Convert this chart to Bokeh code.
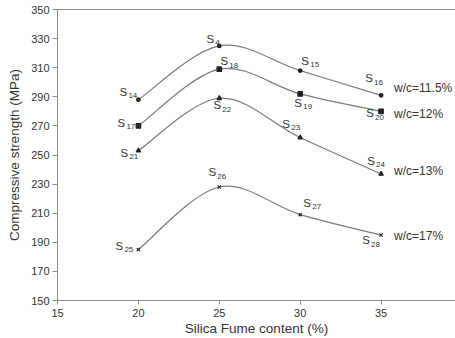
from bokeh.plotting import figure
from bokeh.models import Range1d, FixedTicker, ColumnDataSource, LinearAxis
from bokeh.core.properties import value
from bokeh.embed import file_html
from bokeh.resources import INLINE

# ---- data ----
silica = [20, 25, 30, 35]
series_names = ["w/c=11.5%", "w/c=12%", "w/c=13%", "w/c=17%"]
wc115 = [288, 325, 308, 291]
wc12 = [270, 309, 292, 280]
wc13 = [253, 289, 262, 237]
wc17 = [185, 228, 209, 195]
ids115 = ["14", "4", "15", "16"]
ids12 = ["17", "18", "19", "20"]
ids13 = ["21", "22", "23", "24"]
ids17 = ["25", "26", "27", "28"]
x_ticks = [15, 20, 25, 30, 35, 40]
y_ticks = [150, 170, 190, 210, 230, 250, 270, 290, 310, 330, 350]

# ---- styling / positions (pixel offsets of point labels) ----
lab_off = {
    "w/c=11.5%": [(-15, -8), (-9, -7), (5, -10), (-12, -17)],
    "w/c=12%": [(-17, -3), (5, -8), (-2, 9), (-11, 2)],
    "w/c=13%": [(-14, 2), (-2, 7), (-14, -14), (-10, -13)],
    "w/c=17%": [(-19, -4), (-7, -15), (7, -12), (-15, 5)],
}
name_off = {"w/c=11.5%": -7, "w/c=12%": 3, "w/c=13%": -3, "w/c=17%": 1}
markers = {"w/c=11.5%": ("circle", 3.5), "w/c=12%": ("square", 4.5),
           "w/c=13%": ("triangle", 4.5), "w/c=17%": ("x", 4.5)}

FONT = "Liberation Sans"
LINE = "#7a7a7a"
TXT = "#333333"
AX = "#8a8a8a"

p = figure(width=455, height=338, output_backend="svg", toolbar_location=None,
           x_range=Range1d(15, 39.6), y_range=Range1d(150, 350),
           min_border_left=57, min_border_top=9, min_border_bottom=38,
           min_border_right=0)
p.xgrid.visible = False
p.ygrid.visible = False
p.outline_line_color = None
p.background_fill_color = "white"
p.border_fill_color = "white"

xa = p.below[0]
ya = p.left[0]

top = LinearAxis(ticker=FixedTicker(ticks=[]), axis_line_color=AX,
                 major_tick_out=0, major_tick_in=0, minor_tick_out=0,
                 minor_tick_in=0, major_label_text_font_size="0px")
p.add_layout(top, "above")

for ax in (xa, ya):
    ax.axis_line_color = AX
    ax.major_tick_line_color = AX
    ax.minor_tick_line_color = None
    ax.major_tick_in = 0
    ax.major_label_text_font = FONT
    ax.major_label_text_font_size = "11px"
    ax.major_label_text_color = TXT
    ax.axis_label_text_font = FONT
    ax.axis_label_text_font_size = "13.5px"
    ax.axis_label_text_font_style = "normal"
    ax.axis_label_text_color = TXT

xa.ticker = FixedTicker(ticks=x_ticks)
ya.ticker = FixedTicker(ticks=y_ticks)
xa.major_tick_out = 4
ya.major_tick_out = 5
xa.major_label_standoff = 4
ya.major_label_standoff = 3
xa.axis_label = "Silica Fume content (%)"
ya.axis_label = "Compressive strength (MPa)"
xa.axis_label_standoff = 1
ya.axis_label_standoff = 6


def bezier_parts(xs, ys):
    n = len(xs)
    out = {k: [] for k in ("x0", "y0", "x1", "y1", "cx0", "cy0", "cx1", "cy1")}
    for i in range(n - 1):
        xm, ym = (xs[i - 1], ys[i - 1]) if i > 0 else (xs[i], ys[i])
        xp, yp = (xs[i + 2], ys[i + 2]) if i + 2 < n else (xs[i + 1], ys[i + 1])
        out["x0"].append(xs[i]); out["y0"].append(ys[i])
        out["x1"].append(xs[i + 1]); out["y1"].append(ys[i + 1])
        out["cx0"].append(xs[i] + (xs[i + 1] - xm) / 6)
        out["cy0"].append(ys[i] + (ys[i + 1] - ym) / 6)
        out["cx1"].append(xs[i + 1] - (xp - xs[i]) / 6)
        out["cy1"].append(ys[i + 1] - (yp - ys[i]) / 6)
    return out


all_series = list(zip(series_names, [wc115, wc12, wc13, wc17],
                      [ids115, ids12, ids13, ids17]))

for name, vals, ids in all_series:
    bp = bezier_parts(silica, vals)
    p.bezier(source=ColumnDataSource(bp), x0="x0", y0="y0", x1="x1", y1="y1",
             cx0="cx0", cy0="cy0", cx1="cx1", cy1="cy1",
             line_color=LINE, line_width=1.2)
    mk, sz = markers[name]
    p.scatter(silica, vals, marker=mk, size=sz, fill_color="#222222",
              line_color="#222222", line_width=1.2)
    offs = lab_off[name]
    src = ColumnDataSource(dict(
        x=silica, y=vals, sub=ids,
        sx=[o[0] for o in offs], sy=[o[1] for o in offs],
        bx=[o[0] + 5 for o in offs], by=[o[1] + 4 for o in offs],
        s=["S"] * len(silica)))
    p.text(x="x", y="y", text="s", x_offset="sx", y_offset="sy", source=src,
           text_font=value(FONT), text_font_size="11.5px", text_color=TXT,
           text_align="center", text_baseline="middle")
    p.text(x="x", y="y", text="sub", x_offset="bx", y_offset="by", source=src,
           text_font=value(FONT), text_font_size="8px", text_color=TXT,
           text_align="left", text_baseline="middle")
    p.text(x=[silica[-1]], y=[vals[-1]], text=[name], x_offset=13,
           y_offset=name_off[name], text_font=value(FONT),
           text_font_size="12px", text_color=TXT, text_align="left",
           text_baseline="middle")

open("out.html", "w").write(file_html(p, INLINE))
